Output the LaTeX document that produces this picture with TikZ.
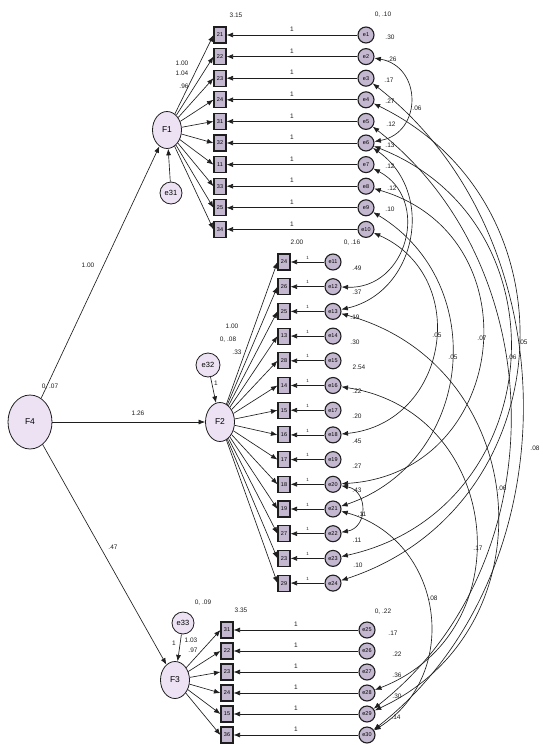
\documentclass[tikz,border=0pt]{standalone}
\usepackage{fontspec}
\setmainfont{Liberation Sans}
\usetikzlibrary{shapes.geometric,arrows.meta}
\definecolor{lavL}{HTML}{ECE2F4}
\definecolor{lavD}{HTML}{C4B8D0}
\definecolor{ink}{HTML}{1E1E1E}
\newcounter{lbc}
\newcommand\lbl[2]{\stepcounter{lbc}\node[lab] (lb\arabic{lbc}) at (#1) {#2};}
\tikzset{
  lat/.style={ellipse,draw=ink,fill=lavL,line width=0.8pt,inner sep=0pt,font=\fontsize{8.5}{9}\selectfont},
  dist/.style={circle,draw=ink,fill=lavL,line width=0.8pt,inner sep=0pt,font=\fontsize{7.5}{8}\selectfont},
  err/.style={circle,draw=ink,fill=lavD,line width=1.1pt,minimum size=16pt,inner sep=0pt,font=\fontsize{5.5}{6}\selectfont},
  obs/.style={rectangle,draw=ink,fill=lavD,line width=1.1pt,minimum width=12pt,minimum height=16pt,inner sep=0pt,font=\fontsize{5.5}{6}\selectfont},
  lab/.style={font=\fontsize{6.5}{7}\selectfont,inner sep=0pt,text=ink},
  path/.style={->,draw=ink,line width=0.65pt},
  cov/.style={<->,draw=ink,line width=0.65pt},
}
\begin{document}
\begin{tikzpicture}[x=1pt,y=1pt,>={Latex[length=6.5pt,width=5pt]}]
\useasboundingbox (0,0) rectangle (542,-745);
% latent variables
\node[lat,minimum width=44pt,minimum height=54pt] (F4) at (30,-422) {F4};
\node[lat,minimum width=29pt,minimum height=37pt] (F1) at (167,-130) {F1};
\node[lat,minimum width=29pt,minimum height=39pt] (F2) at (220,-422) {F2};
\node[lat,minimum width=29pt,minimum height=37pt] (F3) at (175,-680) {F3};
\node[dist,minimum size=22pt] (e31) at (171,-193) {e31};
\node[dist,minimum size=24pt] (e32) at (208,-365) {e32};
\node[dist,minimum size=22pt] (e33) at (183,-623) {e33};
% F1 block
\foreach \i/\t in {1/21,2/22,3/23,4/24,5/31,6/32,7/11,8/33,9/25,10/34}{
  \pgfmathsetmacro\yy{-35-21.6*(\i-1)}
  \node[obs] (x\i) at (220,\yy) {\t};
  \node[err] (a\i) at (366,\yy) {e\i};
  \draw[path] (F1) -- (x\i.west);
  \draw[path] (a\i) -- (x\i.east) node[lab,midway,above=3pt] (p\i) {1};
}
% F2 block
\foreach \j/\t in {1/24,2/26,3/25,4/13,5/28,6/14,7/15,8/16,9/17,10/18,11/19,12/27,13/23,14/29}{
  \pgfmathsetmacro\yy{-262-24.7*(\j-1)}
  \pgfmathtruncatemacro\en{\j+10}
  \node[obs] (y\j) at (284,\yy) {\t};
  \node[err] (b\j) at (333,\yy) {e\en};
  \draw[path] (F2) -- (y\j.west);
  \draw[path] (b\j) -- (y\j.east) node[lab,midway,above=2.5pt,font=\fontsize{4.5}{5}\selectfont] (q\j) {1};
}
% F3 block
\foreach \k/\t in {1/31,2/22,3/23,4/24,5/15,6/36}{
  \pgfmathsetmacro\yy{-630-21*(\k-1)}
  \pgfmathtruncatemacro\en{\k+24}
  \node[obs] (z\k) at (227,\yy) {\t};
  \node[err] (c\k) at (367,\yy) {e\en};
  \draw[path] (F3) -- (z\k.west);
  \draw[path] (c\k) -- (z\k.east) node[lab,midway,above=3pt] (r\k) {1};
}
% structural paths
\draw[path] (F4) -- (F1);
\draw[path] (F4) -- (F2);
\draw[path] (F4) -- (F3);
\draw[path] (e31) -- (F1);
\draw[path] (e32) -- (F2);
\draw[path] (e33) -- (F3);
% covariances
\draw[cov] (a2) to[bend left=80,looseness=1.5] (a6);
\draw[cov] (a3) to[bend left=52,looseness=1.0] (c6);
\draw[cov] (a5) to[bend left=52,looseness=1.02] (c5);
\draw[cov] (a4) to[bend left=68,looseness=1.24] (b14);
\draw[cov] (a6) to[bend left=73,looseness=1.32] (b13);
\draw[cov] (a8) to[bend left=80,looseness=1.45] (b10);
\draw[cov] (a9) to[bend left=65,looseness=1.2] (b11);
\draw[cov] (a10) to[bend left=75,looseness=1.35] (b8);
\draw[cov] (a7) to[bend left=77,looseness=1.37] (b2);
\draw[cov] (a6) to[bend left=66,looseness=1.2] (b3);
\draw[cov] (b3) to[bend left=70,looseness=1.27] (c5);
\draw[cov] (b6) to[bend left=75,looseness=1.36] (c4);
\draw[cov] (b11) to[bend left=66,looseness=1.22] (c6);
\draw[cov] (b10) to[bend left=80,looseness=1.5] (b12);
% labels: structural
\lbl{88,-265}{1.00}
\lbl{138,-413}{1.26}
\lbl{113,-547}{.47}
\lbl{50,-387}{0, .07}
% intercepts / means
\lbl{236,-15}{3.15}
\lbl{297,-242}{2.00}
\lbl{241,-610}{3.35}
\lbl{203,-603}{0, .09}
\lbl{228,-340}{0, .08}
% loadings
\lbl{182,-63}{1.00}
\lbl{182,-73}{1.04}
\lbl{184,-86}{.96}
\lbl{232,-326}{1.00}
\lbl{237,-352}{.33}
\lbl{216,-383}{1}
\lbl{174,-643}{1}
\lbl{191,-640}{1.03}
\lbl{193,-650}{.97}
% variances F1 errors
\lbl{383,-15}{0, .10}
\lbl{390,-37}{.30}
\lbl{392,-59}{.26}
\lbl{389,-80}{.17}
\lbl{390,-101}{.27}
\lbl{391,-124}{.12}
\lbl{390,-145}{.13}
\lbl{390,-166}{.12}
\lbl{392,-188}{.12}
\lbl{390,-209}{.10}
% variances F2 errors
\lbl{352,-243}{0, .16}
\lbl{357,-268}{.49}
\lbl{357,-292}{.37}
\lbl{355,-317}{.19}
\lbl{355,-342}{.30}
\lbl{359,-367}{2.54}
\lbl{357,-391}{.22}
\lbl{357,-416}{.20}
\lbl{357,-441}{.45}
\lbl{357,-466}{.27}
\lbl{357,-490}{.43}
\lbl{362,-514}{.11}
\lbl{357,-540}{.11}
\lbl{358,-565}{.10}
% variances F3 errors
\lbl{383,-612}{0, .22}
\lbl{393,-633}{.17}
\lbl{397,-654}{.22}
\lbl{397,-675}{.36}
\lbl{397,-696}{.30}
\lbl{396,-717}{.14}
% covariance labels
\lbl{417,-108}{.06}
\lbl{535,-448}{.08}
\lbl{523,-342}{.05}
\lbl{512,-357}{.06}
\lbl{482,-338}{.07}
\lbl{453,-357}{.05}
\lbl{437,-335}{.05}
\lbl{502,-488}{.06}
\lbl{478,-548}{.17}
\lbl{433,-598}{.08}
\end{tikzpicture}
\end{document}
